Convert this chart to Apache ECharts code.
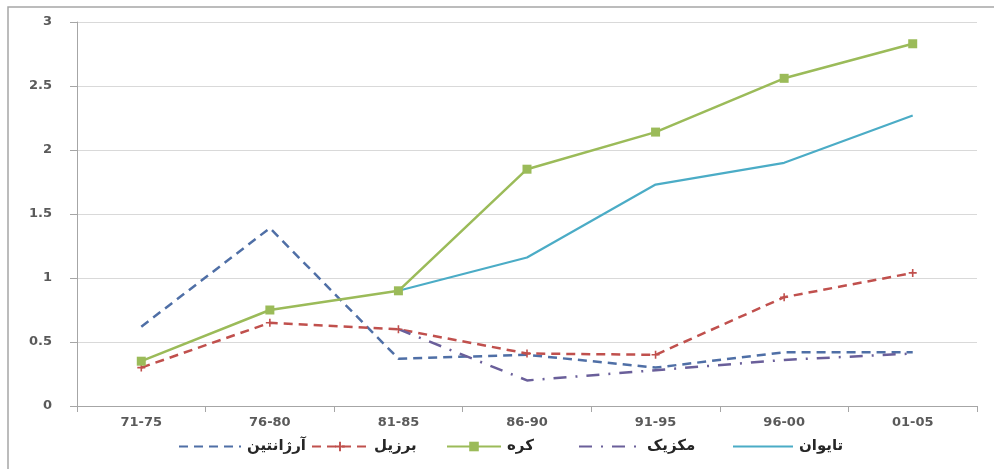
<!DOCTYPE html>
<html>
<head>
<meta charset="utf-8">
<script src="https://cdn.jsdelivr.net/npm/echarts@6/dist/echarts.min.js"></script>
<style>
  html, body { margin: 0; padding: 0; background: #fff; }
  #chart { width: 994px; height: 469px; }
</style>
</head>
<body>
<div id="chart"></div>
<script>
// Periods on the category axis
const periods = ['71-75', '76-80', '81-85', '86-90', '91-95', '96-00', '01-05'];
// Value-axis ticks
const yTicks = [0, 0.5, 1, 1.5, 2, 2.5, 3];

// Series values per period
const argentina = [0.62, 1.39, 0.37, 0.40, 0.30, 0.42, 0.42];
const brazil    = [0.30, 0.65, 0.60, 0.41, 0.40, 0.85, 1.04];
const korea     = [0.35, 0.75, 0.90, 1.85, 2.14, 2.56, 2.83];
const mexico    = [null, null, 0.60, 0.20, 0.28, 0.36, 0.41];
const taiwan    = [null, null, 0.90, 1.16, 1.73, 1.90, 2.27];

const names = ['آرژانتین', 'برزیل', 'کره', 'مکزیک', 'تایوان'];

const FONT = 'DejaVu Sans';
const plusPath = 'path://M4,0H6V4H10V6H6V10H4V6H0V4H4Z';

// One legend block per series so each entry sits at its own spot
const legendSpots = [
  { left: 178, width: 62, hideMarker: true },
  { left: 311, width: 56, hideMarker: false },
  { left: 446, width: 54, hideMarker: false },
  { left: 578, width: 62, hideMarker: true },
  { left: 732, width: 60, hideMarker: true }
];

const legends = names.map((n, i) => ({
  data: [legendSpots[i].hideMarker ? { name: n, itemStyle: { opacity: 0 } } : { name: n }],
  left: legendSpots[i].left,
  top: 439,
  padding: 0,
  itemWidth: legendSpots[i].width,
  itemHeight: 12,
  itemGap: 6,
  selectedMode: false,
  textStyle: { fontFamily: FONT, fontSize: 15, fontWeight: 'bold', color: '#262626', padding: [0, 0, 0, 1] }
}));

const axisFont = { fontFamily: FONT, fontSize: 13, fontWeight: 'bold', color: '#5a5a5a' };

const chart = echarts.init(document.getElementById('chart'), null, { renderer: 'canvas' });

chart.setOption({
  backgroundColor: '#ffffff',
  animation: false,
  textStyle: { fontFamily: FONT },
  graphic: [{
    type: 'rect',
    shape: { x: 8, y: 7, width: 1000, height: 480 },
    style: { fill: 'none', stroke: '#a6a6a6', lineWidth: 1.5 },
    silent: true
  }],
  grid: { left: 77, right: 17, top: 22, bottom: 63 },
  legend: legends,
  xAxis: {
    type: 'category',
    data: periods,
    boundaryGap: true,
    axisLine: { lineStyle: { color: '#a6a6a6', width: 1 } },
    axisTick: { show: true, length: 6, lineStyle: { color: '#a6a6a6' } },
    axisLabel: Object.assign({ margin: 10 }, axisFont),
    splitLine: { show: false }
  },
  yAxis: {
    type: 'value',
    min: yTicks[0],
    max: yTicks[yTicks.length - 1],
    interval: yTicks[1] - yTicks[0],
    axisLine: { show: true, lineStyle: { color: '#a6a6a6', width: 1 } },
    axisTick: { show: true, length: 7, lineStyle: { color: '#a6a6a6' } },
    axisLabel: Object.assign({ margin: 25, formatter: v => String(v) }, axisFont),
    splitLine: { lineStyle: { color: '#d9d9d9', width: 1 } }
  },
  series: [
    {
      name: names[0], type: 'line', data: argentina,
      symbol: 'none',
      lineStyle: { color: '#4f6fa6', width: 2.5, type: [9, 6] },
      itemStyle: { color: '#4f6fa6' }
    },
    {
      name: names[1], type: 'line', data: brazil,
      symbol: plusPath, symbolSize: 8,
      lineStyle: { color: '#c0504d', width: 2.5, type: [9, 6] },
      itemStyle: { color: '#c0504d' }
    },
    {
      name: names[2], type: 'line', data: korea,
      symbol: 'rect', symbolSize: 9,
      lineStyle: { color: '#9bbb59', width: 2.5 },
      itemStyle: { color: '#9bbb59' }
    },
    {
      name: names[3], type: 'line', data: mexico,
      symbol: 'none', connectNulls: false,
      lineStyle: { color: '#6a5f9a', width: 2.5, type: [13, 9, 2, 9] },
      itemStyle: { color: '#6a5f9a' }
    },
    {
      name: names[4], type: 'line', data: taiwan,
      symbol: 'none', connectNulls: false,
      lineStyle: { color: '#4bacc6', width: 2.2 },
      itemStyle: { color: '#4bacc6' }
    }
  ]
});
</script>
</body>
</html>
